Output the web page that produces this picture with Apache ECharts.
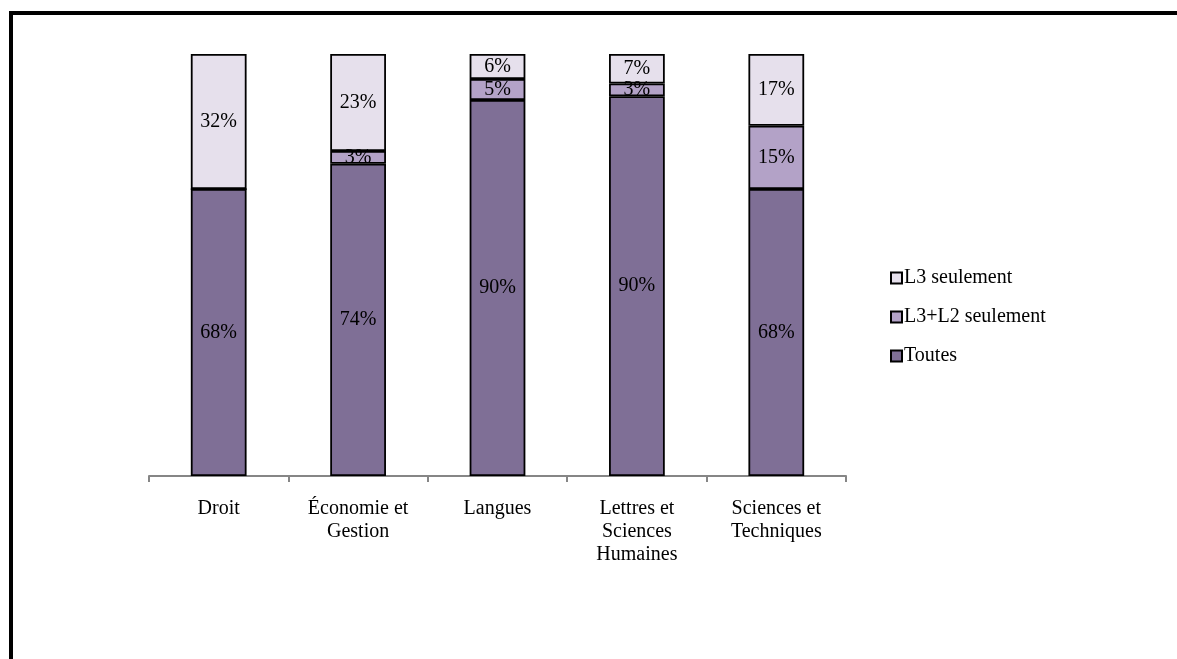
<!DOCTYPE html>
<html lang="fr">
<head>
    <meta charset="UTF-8">
    <title>Répartition par composante</title>
    <style>
        * {
            margin: 0px;
            padding: 0px;
        }

        #main {
            width: 1177px;
            height: 659px;
            background-color: #ffffff
        }
    </style>
</head>
<body>
<div id="main"></div>
<script src="https://cdn.jsdelivr.net/npm/echarts@6/dist/echarts.min.js"></script>
<script type="text/javascript">
    // données
    var categories = ['Droit', 'Économie et\nGestion', 'Langues', 'Lettres et\nSciences\nHumaines', 'Sciences et\nTechniques'];
    var toutes = [68, 74, 90, 90, 68];
    var l3l2 = [0, 3, 5, 3, 15];
    var l3 = [32, 23, 6, 7, 17];

    // barres empilées à 100 % (comme Excel)
    function share(arr) {
        return arr.map(function (v, i) {
            return v / (toutes[i] + l3l2[i] + l3[i]) * 100;
        });
    }

    function makeSeries(name, raw, color) {
        return {
            name: name,
            type: 'bar',
            stack: 'total',
            barCategoryGap: '60%',
            data: share(raw),
            itemStyle: {
                color: color,
                borderColor: '#000000',
                borderWidth: 1.8
            },
            label: {
                show: true,
                position: 'inside',
                color: '#000000',
                fontFamily: 'Liberation Serif',
                fontSize: 20,
                formatter: function (p) {
                    return raw[p.dataIndex] ? raw[p.dataIndex] + '%' : '';
                }
            }
        };
    }

    var myChart = echarts.init(document.getElementById('main'));
    myChart.setOption({
        animation: false,
        textStyle: {fontFamily: 'Liberation Serif'},
        grid: {left: 149, right: 331, top: 54, bottom: 183},
        legend: {
            orient: 'vertical',
            left: 885,
            top: 263,
            icon: 'rect',
            itemWidth: 11,
            itemHeight: 11,
            itemGap: 19,
            data: ['L3 seulement', 'L3+L2 seulement', 'Toutes'],
            textStyle: {fontFamily: 'Liberation Serif', fontSize: 20, color: '#000000', padding: [0, 0, 0, -3]}
        },
        xAxis: {
            type: 'category',
            data: categories,
            axisLine: {lineStyle: {color: '#868686', width: 2}},
            axisTick: {show: true, length: 6, lineStyle: {color: '#868686', width: 2}},
            axisLabel: {
                color: '#000000',
                fontFamily: 'Liberation Serif',
                fontSize: 20,
                lineHeight: 23,
                margin: 21,
                interval: 0
            }
        },
        yAxis: {
            type: 'value',
            min: 0,
            max: 100,
            show: false
        },
        series: [
            makeSeries('Toutes', toutes, '#7f6f96'),
            makeSeries('L3+L2 seulement', l3l2, '#b3a2c7'),
            makeSeries('L3 seulement', l3, '#e6e0ec')
        ],
        graphic: [{
            type: 'rect',
            shape: {x: 11, y: 13, width: 1200, height: 700},
            style: {fill: 'none', stroke: '#000000', lineWidth: 4}
        }]
    });
</script>
</body>
</html>
